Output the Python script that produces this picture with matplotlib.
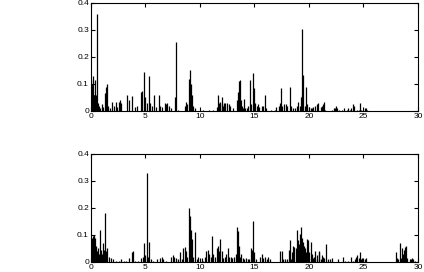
import matplotlib
matplotlib.use("Agg")
import matplotlib.pyplot as plt

plt.rcParams['font.family'] = ['Liberation Sans', 'DejaVu Sans']

# spike positions / heights
top_x = [0.02, 0.06, 0.1, 0.15, 0.2, 0.25, 0.3, 0.35, 0.4, 0.45, 0.5, 0.58, 0.63, 0.7,
         0.85, 1.0, 1.1, 1.28, 1.37, 1.5, 1.58, 1.75, 1.96, 2.1, 2.26, 2.4,
         2.53, 2.62, 2.72, 3.33, 3.5, 3.79, 4.0, 4.2,
         4.6, 4.7, 4.89, 4.98, 5.1, 5.32, 5.42, 5.6, 5.78, 5.95, 6.24, 6.33, 6.55,
         6.75, 6.9, 6.95, 7.15, 7.35, 7.7, 7.8, 8.0, 8.6, 8.7, 8.8, 8.98, 9.08, 9.17,
         9.26, 9.4, 9.55, 10.3, 10.8, 11.2, 11.53, 11.7, 11.79, 11.88, 12.0, 12.05, 12.15,
         12.24, 12.33, 12.45, 12.66, 12.75, 13.06, 13.36, 13.48, 13.58, 13.67, 13.76, 13.88,
         13.97, 14.07, 14.16, 14.28, 14.43, 14.56, 14.65, 14.83, 14.92, 15.04, 15.19, 15.35,
         15.44, 15.65, 15.8, 15.96, 16.1, 16.55, 16.85, 17.0, 17.22, 17.3, 17.4, 17.52,
         17.73, 17.88, 18.03, 18.26, 18.38, 18.5, 18.71, 18.87, 19.02, 19.17, 19.26, 19.33,
         19.4, 19.5, 19.62, 19.75, 19.85, 20.0, 20.15, 20.25, 20.4, 20.55, 20.7, 20.82,
         21.1, 21.2, 21.3, 21.4, 21.5, 22.1, 22.27, 22.4, 22.5, 22.6, 22.75, 23.0,
         23.25, 23.46, 23.6, 23.75, 23.9, 24.07, 24.16, 24.38, 24.6, 24.67, 24.8, 25.1,
         25.25, 25.35]
top_y = [0.115, 0.06, 0.1, 0.06, 0.13, 0.06, 0.06, 0.115, 0.06, 0.06, 0.03, 0.36, 0.03, 0.02,
         0.01, 0.025, 0.015, 0.065, 0.09, 0.1, 0.02, 0.01, 0.035, 0.02, 0.035, 0.015,
         0.035, 0.04, 0.03, 0.06, 0.04, 0.055, 0.015, 0.02,
         0.07, 0.075, 0.145, 0.05, 0.03, 0.13, 0.03, 0.02, 0.06, 0.015, 0.06, 0.02, 0.015,
         0.03, 0.025, 0.03, 0.02, 0.01, 0.05, 0.255, 0.005, 0.02, 0.035, 0.025, 0.12, 0.15, 0.1,
         0.06, 0.02, 0.01, 0.005, 0.003, 0.003, 0.015, 0.06, 0.03, 0.035, 0.025, 0.05, 0.02,
         0.03, 0.03, 0.03, 0.025, 0.02, 0.01, 0.04, 0.07, 0.11, 0.115, 0.04, 0.02,
         0.01, 0.045, 0.01, 0.01, 0.02, 0.115, 0.025, 0.14, 0.085, 0.03, 0.02, 0.025,
         0.015, 0.02, 0.02, 0.06, 0.01, 0.005, 0.005, 0.015, 0.02, 0.03, 0.085, 0.02,
         0.025, 0.025, 0.02, 0.09, 0.02, 0.01, 0.01, 0.02, 0.035, 0.02, 0.05, 0.06,
         0.305, 0.135, 0.02, 0.09, 0.025, 0.015, 0.01, 0.01, 0.015, 0.02, 0.025, 0.03,
         0.015, 0.02, 0.025, 0.035, 0.005, 0.005, 0.01, 0.01, 0.02, 0.01, 0.005, 0.005,
         0.01, 0.005, 0.01, 0.005, 0.01, 0.025, 0.02, 0.005, 0.005, 0.03, 0.005, 0.01,
         0.01, 0.005]

# spike positions / heights
bot_x = [0.02, 0.07, 0.12, 0.15, 0.2, 0.25, 0.3, 0.35, 0.4, 0.45, 0.5, 0.55, 0.6, 0.68,
         0.75, 0.84, 0.92, 1.0, 1.13, 1.2, 1.28, 1.37, 1.5, 1.68, 1.87, 2.05, 2.3, 2.6,
         2.75, 3.0, 3.2, 3.49, 3.73, 3.88, 4.05, 4.35, 4.6, 4.75, 4.89, 4.98, 5.11, 5.2,
         5.32, 5.48, 5.72, 6.03, 6.34, 6.5, 6.65, 6.9, 7.35, 7.5, 7.6, 7.8, 7.97, 8.17, 8.32,
         8.48, 8.63, 8.72, 8.84, 9.02, 9.08, 9.12, 9.2, 9.29, 9.38, 9.54, 9.7, 9.85, 10.15,
         10.3, 10.45, 10.6, 10.75, 10.85, 10.97, 11.13, 11.22, 11.38, 11.53, 11.62, 11.74,
         11.87, 11.99, 12.14, 12.3, 12.42, 12.54, 12.66, 12.82, 12.97, 13.15, 13.3, 13.39,
         13.48, 13.57, 13.66, 13.76, 13.91, 14.06, 14.21, 14.37, 14.52, 14.68, 14.77, 14.89,
         14.98, 15.1, 15.5, 15.66, 15.81, 15.96, 16.12, 16.27, 16.42, 17.34, 17.55, 17.64,
         17.8, 17.95, 18.17, 18.26, 18.35, 18.47, 18.56, 18.65, 18.77, 18.87, 18.96, 19.08,
         19.17, 19.3, 19.38, 19.47, 19.56, 19.65, 19.75, 19.85, 19.94, 20.03, 20.2, 20.3,
         20.4, 20.5, 20.6, 20.7, 20.78, 20.88, 20.97, 21.07, 21.16, 21.3, 21.4, 21.6, 21.75,
         21.9, 22.14, 22.7, 23.15, 23.3, 23.6, 23.9, 24.05, 24.2, 24.35, 24.45, 24.56, 24.68,
         24.77, 24.86, 24.98, 25.13, 25.22, 27.98, 28.07, 28.2, 28.35, 28.44, 28.53, 28.62,
         28.71, 28.8, 28.9, 29.0, 29.25, 29.34, 29.46, 29.55, 29.7]
bot_y = [0.03, 0.04, 0.09, 0.03, 0.095, 0.06, 0.1, 0.05, 0.09, 0.06, 0.04, 0.04, 0.02, 0.05,
         0.03, 0.12, 0.045, 0.03, 0.07, 0.045, 0.18, 0.04, 0.05, 0.02, 0.015, 0.01, 0.005, 0.005,
         0.01, 0.005, 0.003, 0.015, 0.035, 0.04, 0.005, 0.003, 0.015, 0.02, 0.07, 0.025, 0.33, 0.02,
         0.075, 0.01, 0.005, 0.01, 0.015, 0.02, 0.01, 0.005, 0.02, 0.025, 0.02, 0.015, 0.01, 0.035, 0.01,
         0.05, 0.055, 0.04, 0.02, 0.2, 0.1, 0.17, 0.12, 0.085, 0.02, 0.11, 0.01, 0.02, 0.015,
         0.005, 0.02, 0.04, 0.045, 0.03, 0.02, 0.095, 0.03, 0.02, 0.05, 0.06, 0.04,
         0.085, 0.04, 0.015, 0.02, 0.03, 0.05, 0.02, 0.02, 0.015, 0.02, 0.03, 0.13,
         0.115, 0.06, 0.02, 0.03, 0.015, 0.01, 0.015, 0.01, 0.01, 0.05, 0.045, 0.15,
         0.035, 0.01, 0.02, 0.03, 0.015, 0.02, 0.01, 0.02, 0.01, 0.04, 0.04, 0.01,
         0.01, 0.01, 0.045, 0.08, 0.01, 0.035, 0.06, 0.055, 0.05, 0.12, 0.08, 0.065,
         0.105, 0.13, 0.09, 0.075, 0.06, 0.05, 0.035, 0.085, 0.08, 0.035, 0.075, 0.03,
         0.015, 0.02, 0.04, 0.025, 0.01, 0.04, 0.035, 0.01, 0.025, 0.02, 0.015, 0.065, 0.01,
         0.01, 0.015, 0.01, 0.02, 0.005, 0.005, 0.02, 0.005, 0.01, 0.02, 0.025, 0.015, 0.035,
         0.01, 0.015, 0.01, 0.01, 0.015, 0.035, 0.015, 0.01, 0.07, 0.015, 0.05, 0.03,
         0.045, 0.055, 0.06, 0.015, 0.01, 0.01, 0.015, 0.01, 0.005]

x_ticks = [0, 5, 10, 15, 20, 25, 30]
y_ticks = [0, 0.1, 0.2, 0.3, 0.4]
y_labels = ["0", "0.1", "0.2", "0.3", "0.4"]

fig = plt.figure(figsize=(4.24, 2.72), dpi=100)
ax1 = fig.add_axes([0.2146, 0.592, 0.771, 0.397])
ax2 = fig.add_axes([0.2146, 0.037, 0.771, 0.397])

for ax, xs, ys in [(ax1, top_x, top_y), (ax2, bot_x, bot_y)]:
    ax.vlines(xs, 0, ys, colors="black", linewidth=0.9)
    ax.set_xlim(0, 30)
    ax.set_ylim(0, 0.4)
    ax.set_xticks(x_ticks)
    ax.set_yticks(y_ticks)
    ax.set_yticklabels(y_labels)
    ax.tick_params(direction="in", top=True, right=True, length=3, width=0.8,
                   labelsize=6, pad=1.5)
    for s in ax.spines.values():
        s.set_linewidth(0.8)

fig.savefig("out.png", dpi=100)
